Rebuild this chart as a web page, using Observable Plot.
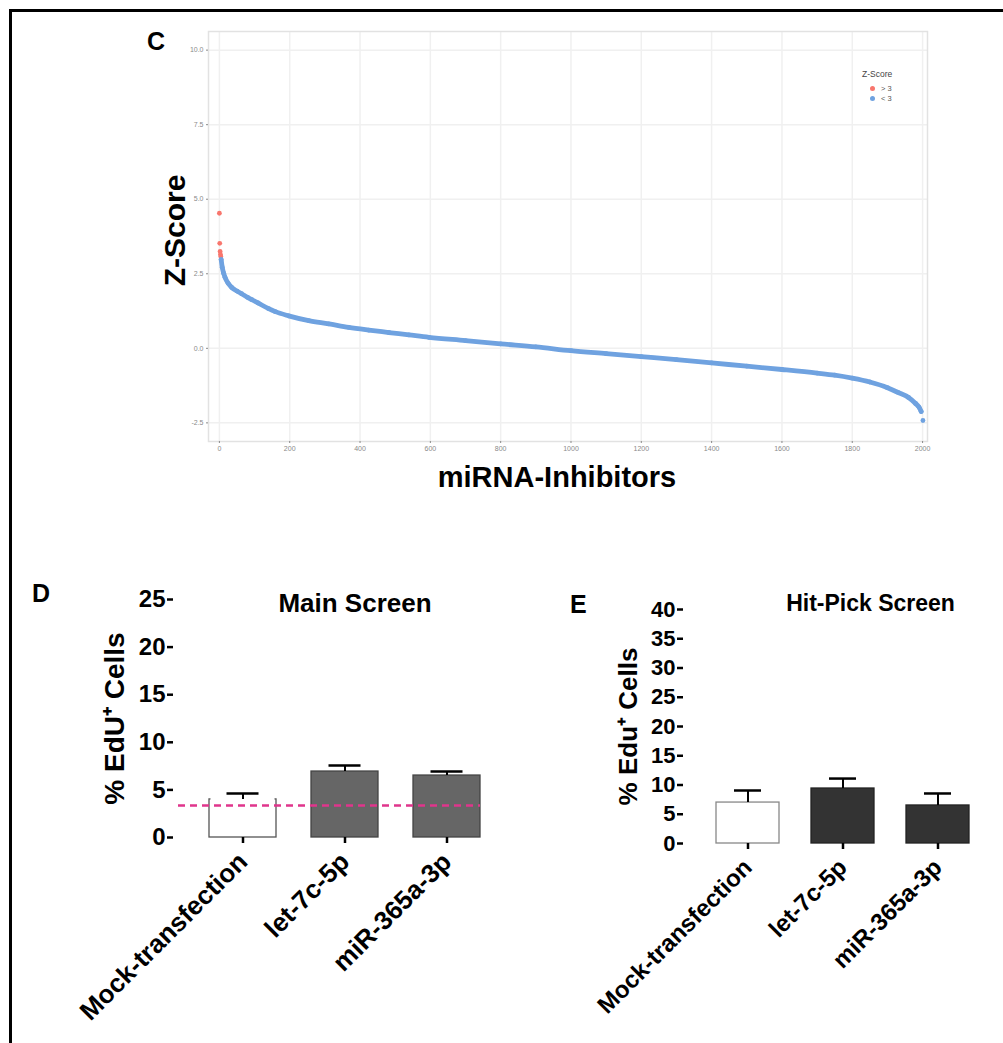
<!DOCTYPE html>
<html><head><meta charset="utf-8">
<script src="https://cdn.jsdelivr.net/npm/d3@7"></script>
<script src="https://cdn.jsdelivr.net/npm/@observablehq/plot@0.6"></script>
<style>
body{margin:0;background:#fff;}
#fig{position:relative;width:1003px;height:1043px;overflow:hidden;background:#fff;font-family:"Liberation Sans",Arial,sans-serif;}
.abs{position:absolute;}
.border{position:absolute;left:9px;top:9px;width:1000px;height:1040px;border-top:3px solid #000;border-left:3px solid #000;}
.letter{position:absolute;font-weight:bold;line-height:1;color:#000;}
.legend{position:absolute;left:862px;top:70px;font-size:7.5px;color:#555;line-height:1;}
.legend .t{font-size:8.5px;color:#444;margin-bottom:5px;}
.legend .row{display:flex;align-items:center;height:10px;}
.legend .sw{width:5px;height:5px;border-radius:50%;margin:0 6px 0 8px;}
</style></head><body>
<div id="fig">
  <div class="border"></div>
  <div id="c" class="abs" style="left:0;top:0"></div>
  <div id="d" class="abs" style="left:0;top:580px"></div>
  <div id="e" class="abs" style="left:540px;top:580px"></div>
  <div class="letter" style="left:147px;top:29px;font-size:25px">C</div>
  <div class="letter" style="left:32px;top:581px;font-size:25px">D</div>
  <div class="letter" style="left:570px;top:592px;font-size:25px">E</div>
  <div class="legend" id="legend"></div>
</div>
<script>
// ---------- Panel C data: sorted Z-scores of miRNA inhibitors ----------
const zIndex = [0, 1, 2, 3, 4, 5, 8, 12, 16, 25, 35, 50, 63, 80, 92, 110, 140, 159, 197, 254, 311, 368, 425, 482, 539, 596, 700, 800, 900, 1000, 1100, 1200, 1300, 1400, 1500, 1600, 1700, 1750, 1800, 1850, 1900, 1930, 1960, 1980, 1990, 1996, 2001];
const zValue = [4.53, 3.52, 3.25, 3.15, 3.08, 2.98, 2.72, 2.52, 2.38, 2.18, 2.04, 1.92, 1.83, 1.71, 1.63, 1.52, 1.33, 1.23, 1.09, 0.93, 0.82, 0.70, 0.61, 0.53, 0.45, 0.37, 0.26, 0.15, 0.05, -0.08, -0.18, -0.28, -0.38, -0.49, -0.60, -0.71, -0.83, -0.90, -1.00, -1.13, -1.32, -1.48, -1.65, -1.85, -1.98, -2.12, -2.42];
const zClasses = ["> 3", "< 3"];
const zTicksX = [0, 200, 400, 600, 800, 1000, 1200, 1400, 1600, 1800, 2000];
const zTicksY = [-2.5, 0, 2.5, 5, 7.5, 10];

// ---------- Panels D / E data ----------
const groups = ["Mock-transfection", "let-7c-5p", "miR-365a-3p"];
const mainMean = [4.0, 6.93, 6.51];
const mainErr = [0.62, 0.63, 0.42];
const mainThreshold = [3.36];
const mainTicks = [0, 5, 10, 15, 20, 25];
const hitMean = [7.0, 9.4, 6.5];
const hitErr = [2.06, 1.7, 2.05];
const hitTicks = [0, 5, 10, 15, 20, 25, 30, 35, 40];

const RED = "#f8766d", BLUE = "#6fa2e0";
const FONT = "font-family:'Liberation Sans',Arial,sans-serif;background:transparent;color:#000;";

// ---------- Panel C ----------
const zData = zIndex.map((i, k) => ({i, z: zValue[k], cls: zValue[k] > 3 ? zClasses[0] : zClasses[1]}));
const lineData = zData.filter(d => d.cls === zClasses[1]).slice(0, -1);

const plotC = Plot.plot({
  width: 1003, height: 500,
  marginLeft: 208, marginRight: 76, marginTop: 31, marginBottom: 59,
  style: FONT,
  x: {domain: [-31, 2014]},
  y: {domain: [-3.125, 10.625]},
  color: {domain: zClasses, range: [RED, BLUE]},
  marks: [
    Plot.gridX(zTicksX, {stroke: "#f0f0f0", strokeOpacity: 1, strokeWidth: 1.5}),
    Plot.gridY(zTicksY, {stroke: "#f0f0f0", strokeOpacity: 1, strokeWidth: 1.5}),
    Plot.frame({stroke: "#e2e2e2", strokeWidth: 1.5}),
    Plot.axisX(zTicksX, {tickSize: 2, tickPadding: 3, fontSize: 7, color: "#8a8a8a", label: null, tickFormat: d => String(d)}),
    Plot.axisY(zTicksY, {tickSize: 2, tickPadding: 3, fontSize: 7, color: "#8a8a8a", label: null, tickFormat: d => d.toFixed(1)}),
    Plot.line(lineData, {x: "i", y: "z", stroke: BLUE, strokeWidth: 4.8, curve: "monotone-x", strokeLinecap: "round"}),
    Plot.dot(zData, {x: "i", y: "z", fill: "cls", r: 2.4}),
    Plot.text(["Z-Score"], {text: d => d, frameAnchor: "left", textAnchor: "middle", lineAnchor: "middle", dx: -33, dy: -6, rotate: -90, fontSize: 30, fontWeight: "bold", fill: "#000"}),
    Plot.text(["miRNA-Inhibitors"], {text: d => d, frameAnchor: "bottom", textAnchor: "middle", lineAnchor: "middle", dx: -11, dy: 36, fontSize: 29, fontWeight: "bold", fill: "#000"})
  ]
});
document.getElementById("c").append(plotC);

// legend
const lg = document.getElementById("legend");
lg.innerHTML = `<div class="t">Z-Score</div>` + zClasses.map((c, k) =>
  `<div class="row"><span class="sw" style="background:${[RED, BLUE][k]}"></span><span>${c}</span></div>`).join("");

// ---------- Bar charts ----------
function barChart(o) {
  const data = groups.map((g, k) => ({g, mean: o.mean[k], hi: o.mean[k] + o.err[k]}));
  const marks = [
    Plot.barY(data, {x: "g", y: "mean", fill: (d, i) => i === 0 ? "white" : o.barFill,
      stroke: (d, i) => i === 0 ? o.mockStroke : o.barStroke, strokeWidth: 1.3})
  ];
  if (o.hideMockTop) marks.push(Plot.tickY(data.slice(0, 1), {x: "g", y: "mean", stroke: "white", strokeWidth: 3, insetLeft: 1.5, insetRight: 1.5}));
  marks.push(
    Plot.ruleX(data, {x: "g", y1: "mean", y2: "hi", stroke: "#000", strokeWidth: 2}),
    Plot.tickY(data, {x: "g", y: "hi", stroke: "#000", strokeWidth: 2.5, insetLeft: o.capInset, insetRight: o.capInset})
  );
  if (o.threshold) marks.push(Plot.ruleY(o.threshold, {stroke: "#e0358c", strokeWidth: 2.5, strokeDasharray: "7,5", insetLeft: 5, insetRight: 36}));
  marks.push(
    Plot.axisY(o.ticks, {tickSize: 6, tickPadding: 2, fontSize: o.yFont, fontWeight: "bold", line: true, stroke: "#000", strokeWidth: 2.5, label: null}),
    Plot.axisX({tickSize: 6, tickPadding: o.xPad, tickRotate: -45, fontSize: o.xFont, fontWeight: "bold", line: true, stroke: "#000", strokeWidth: 2.5, label: null}),
    Plot.text([o.title], {text: d => d, frameAnchor: "top", textAnchor: "middle", lineAnchor: "middle", dx: o.titleDx, dy: o.titleDy, fontSize: o.titleFont, fontWeight: "bold", fill: "#000"}),
    Plot.text([o.ylabel], {text: d => d, frameAnchor: "left", textAnchor: "middle", lineAnchor: "middle", dx: o.ylabelDx, rotate: -90, fontSize: o.ylabelFont, fontWeight: "bold", fill: "#000"})
  );
  return Plot.plot({
    width: o.width, height: o.height,
    marginLeft: o.ml, marginRight: o.mr, marginTop: o.mt, marginBottom: o.mb,
    style: FONT,
    x: {domain: groups, padding: 0.34},
    y: {domain: [0, o.ticks[o.ticks.length - 1]]},
    marks
  });
}

document.getElementById("d").append(barChart({
  mean: mainMean, err: mainErr, ticks: mainTicks, threshold: mainThreshold,
  width: 530, height: 463, ml: 173, mr: 14, mt: 19, mb: 206,
  barFill: "#666666", barStroke: "#444", mockStroke: "#555", hideMockTop: true, capInset: 17.5,
  yFont: 24, xFont: 26, xPad: 14, title: "Main Screen", titleDx: 10, titleDy: 4, titleFont: 26,
  ylabel: "% EdU⁺ Cells", ylabelDx: -58, ylabelFont: 28
}));

document.getElementById("e").append(barChart({
  mean: hitMean, err: hitErr, ticks: hitTicks, threshold: null,
  width: 463, height: 463, ml: 143, mr: 2, mt: 29, mb: 200,
  barFill: "#333333", barStroke: "#222", mockStroke: "#888", hideMockTop: false, capInset: 18,
  yFont: 22, xFont: 24, xPad: 14, title: "Hit-Pick Screen", titleDx: 28, titleDy: -6, titleFont: 23,
  ylabel: "% Edu⁺ Cells", ylabelDx: -55, ylabelFont: 26
}));
</script>
</body></html>
